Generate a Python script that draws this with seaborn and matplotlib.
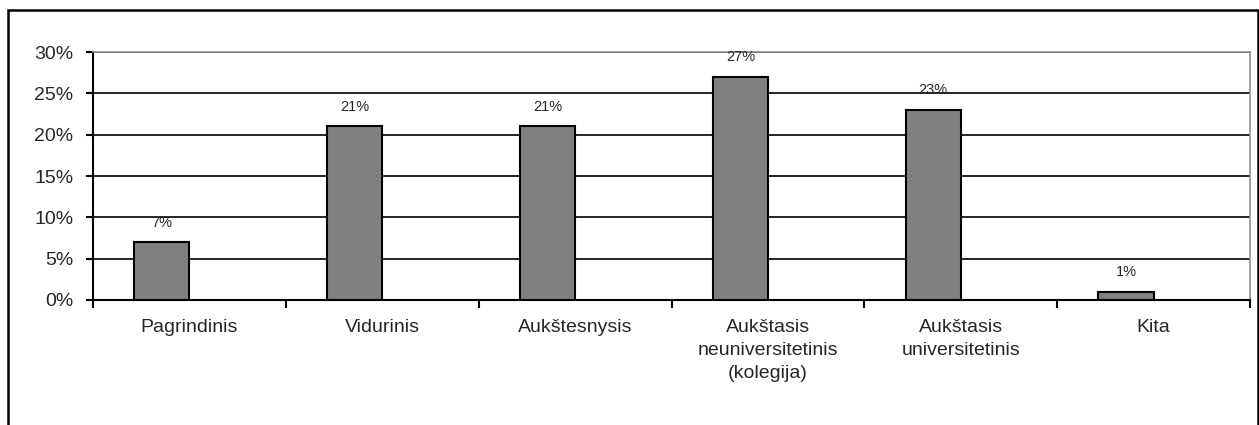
import matplotlib

matplotlib.use("Agg")
import matplotlib.pyplot as plt
import pandas as pd
import seaborn as sns
from matplotlib.patches import Rectangle
from matplotlib.ticker import FixedLocator, PercentFormatter

categories = [
    "Pagrindinis",
    "Vidurinis",
    "Aukštesnysis",
    "Aukštasis\nneuniversitetinis\n(kolegija)",
    "Aukštasis\nuniversitetinis",
    "Kita",
]
values = [7, 21, 21, 27, 23, 1]
y_ticks = [0, 5, 10, 15, 20, 25, 30]

# Excel-style layout: the bar sits in the left half of each slot,
# so add an empty second series to get the same offset.
df = pd.DataFrame(
    {
        "category": categories * 2,
        "value": values + [float("nan")] * len(values),
        "series": ["a"] * len(values) + ["b"] * len(values),
    }
)

sns.set_theme(style="white")
plt.rcParams["font.family"] = ["Liberation Sans", "DejaVu Sans"]

fig = plt.figure(figsize=(12.59, 4.25), dpi=100)
ax = fig.add_axes([93 / 1259, 1 - 300 / 425, (1250 - 93) / 1259, (300 - 52) / 425])

sns.barplot(
    data=df,
    x="category",
    y="value",
    hue="series",
    order=categories,
    width=1 / 1.75,
    dodge=True,
    palette=["#808080", "#808080"],
    edgecolor="black",
    linewidth=1.5,
    legend=False,
    ax=ax,
    zorder=3,
)

ax.set_xlim(-0.5, len(categories) - 0.5)
ax.set_ylim(0, 30)
ax.set_yticks(y_ticks)
ax.yaxis.set_major_formatter(PercentFormatter(decimals=0))
ax.grid(axis="y", color="black", linewidth=1.2, zorder=0)
ax.set_axisbelow(True)

for name in ["left", "bottom"]:
    ax.spines[name].set_color("black")
    ax.spines[name].set_linewidth(1.5)
for name in ["top", "right"]:
    ax.spines[name].set_color("#909090")
    ax.spines[name].set_linewidth(1.2)

ax.xaxis.set_minor_locator(FixedLocator([i - 0.5 for i in range(len(categories) + 1)]))
ax.tick_params(axis="x", which="major", length=0, pad=14, labelsize=14)
ax.tick_params(axis="x", which="minor", length=6, width=1.5, color="black", direction="out", bottom=True)
ax.tick_params(axis="y", length=5, width=1.5, color="black", direction="out", left=True, labelsize=14, pad=9)
for label in ax.get_xticklabels():
    label.set_linespacing(1.44)
    label.set_verticalalignment("top")

for container in ax.containers[:1]:
    ax.bar_label(container, labels=[f"{v}%" for v in values], padding=9, fontsize=10.5)

ax.set_xlabel("")
ax.set_ylabel("")

fig.patches.append(
    Rectangle((8 / 1259, -0.1), 1250 / 1259, 1.1 - 10 / 425, transform=fig.transFigure,
              fill=False, edgecolor="black", linewidth=1.8)
)

fig.savefig("out.png", dpi=100)
